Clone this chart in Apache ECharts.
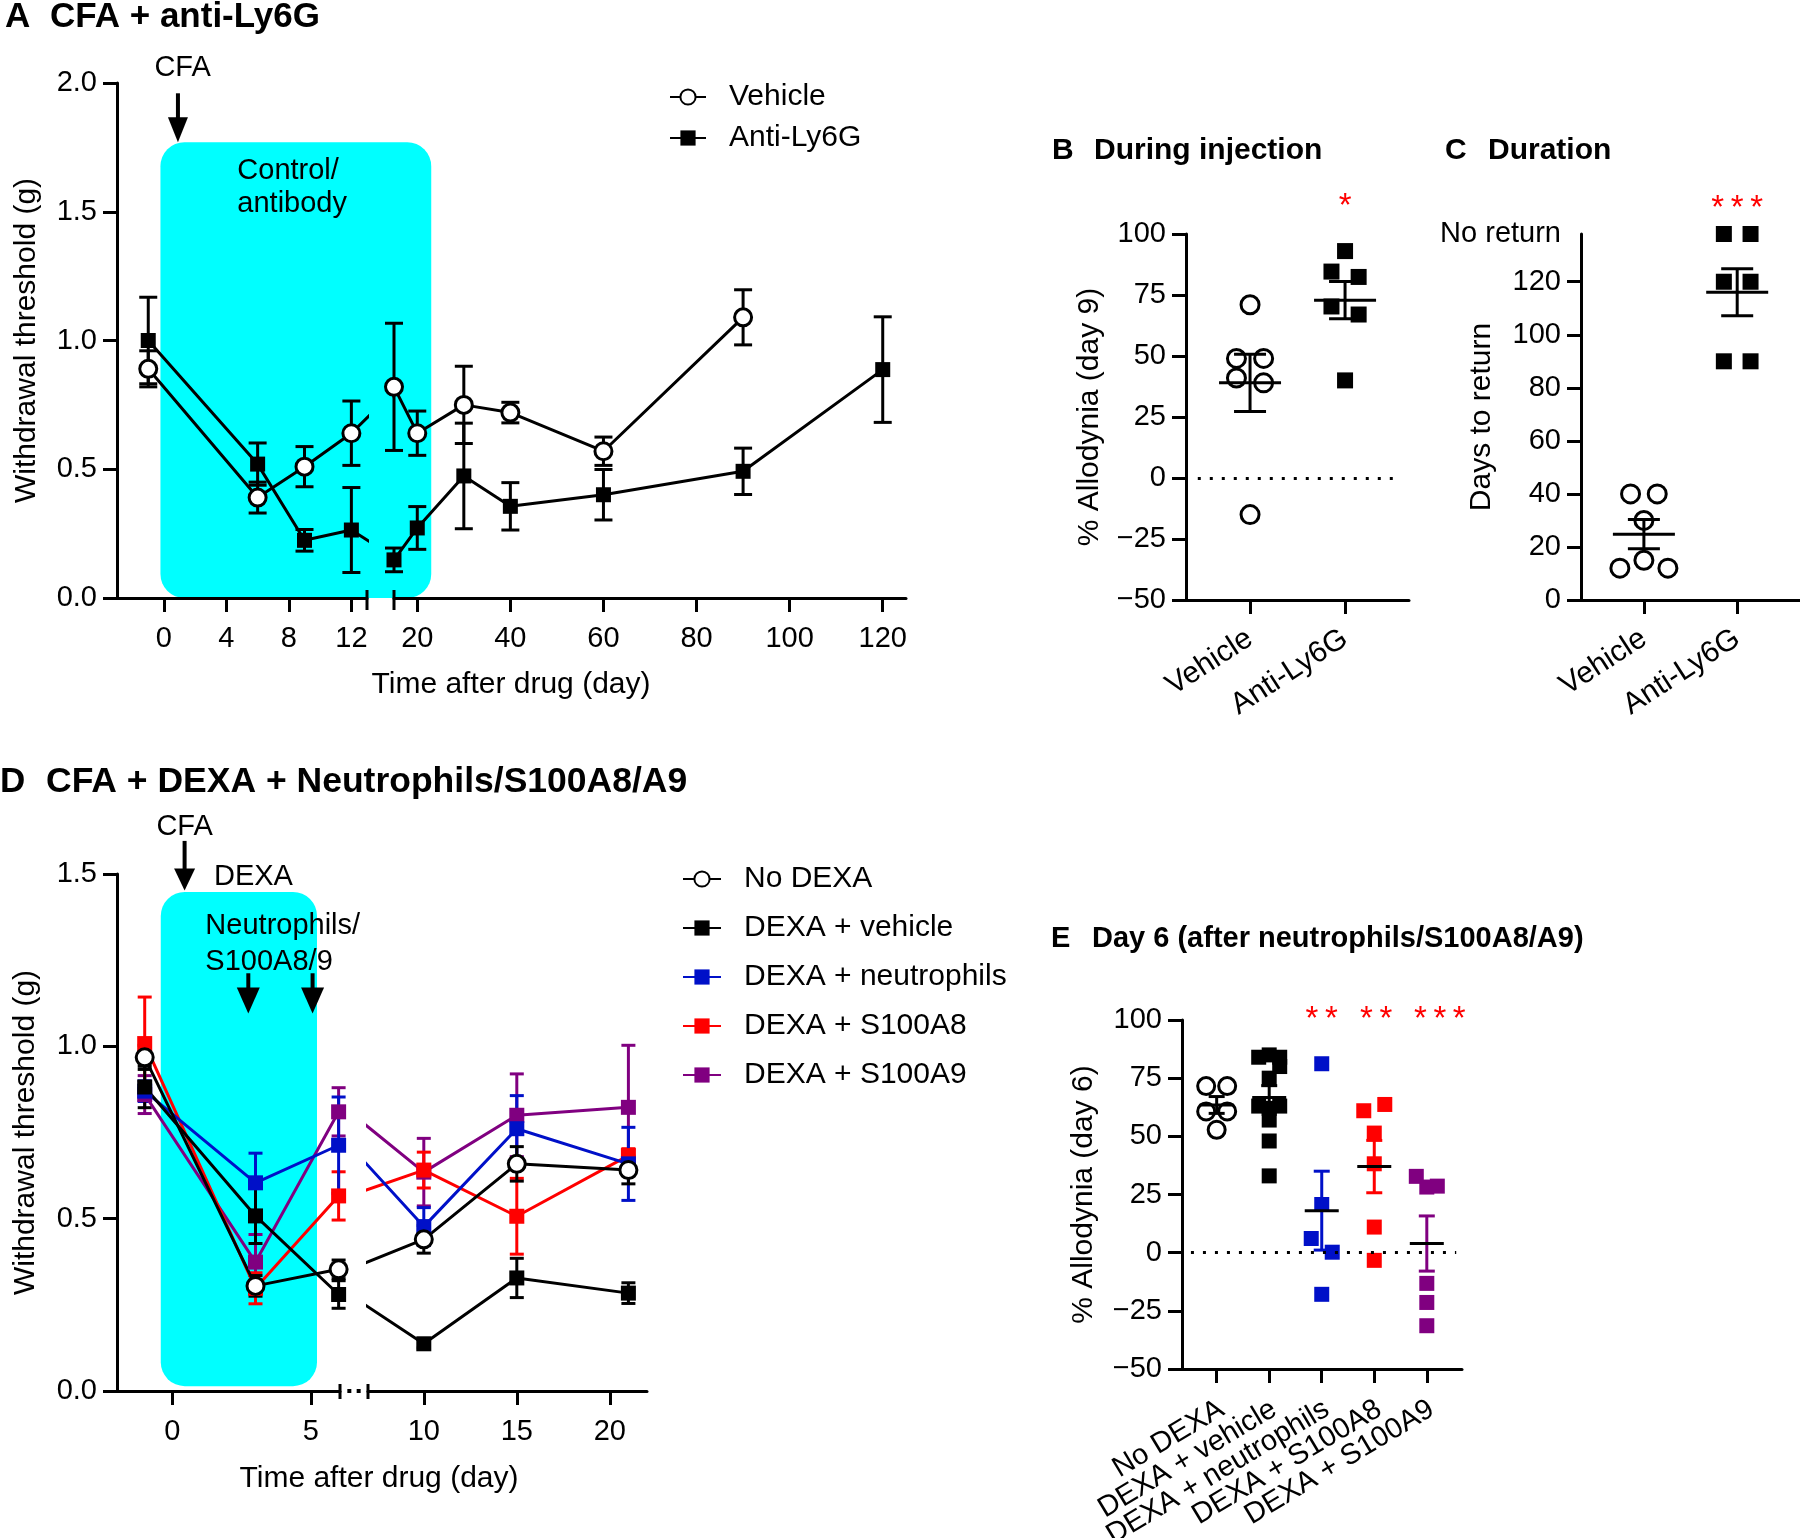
<!DOCTYPE html>
<html>
<head>
<meta charset="utf-8">
<script src="https://cdn.jsdelivr.net/npm/echarts@6/dist/echarts.min.js"></script>
<style>
  html, body { margin: 0; background: #fff; }
  #chart { width: 1800px; height: 1538px; }
</style>
</head>
<body>
<div id="chart"></div>
<script>
// ---- A: CFA + anti-Ly6G, withdrawal threshold (g), mean and SEM ----
const aVehDays = [-1, 6, 9, 12, 15, 20, 30, 40, 60, 90]
const aVehicle = [0.89, 0.39, 0.51, 0.64, 0.82, 0.64, 0.75, 0.72, 0.57, 1.09]
const aVehicleSem = [0.07, 0.06, 0.078, 0.125, 0.247, 0.086, 0.15, 0.04, 0.055, 0.107]
const aAntiDays = [-1, 6, 9, 12, 15, 20, 30, 40, 60, 90, 120]
const aAnti = [1.0, 0.52, 0.224, 0.264, 0.148, 0.272, 0.474, 0.356, 0.401, 0.492, 0.887]
const aAntiSem = [0.168, 0.082, 0.042, 0.165, 0.046, 0.083, 0.205, 0.092, 0.098, 0.09, 0.205]

// ---- B: % allodynia day 9, C: days to return (138 = no return) ----
const bcGroups = ['Vehicle', 'Anti-Ly6G']
const bVehicle = [71, 49, 49, 41, 39, -15]
const bVehicleOff = [0, -1, 1, -1, 1, 0]
const bAnti = [93, 84.6, 82.4, 70.3, 67, 40]
const bAntiOff = [0, -1, 1, -1, 1, 0]
const NO_RETURN = 138
const cVehicle = [40, 40, 30, 12, 15, 12]
const cVehicleOff = [-1, 1, 0, -1.8, 0, 1.8]
const cAnti = [NO_RETURN, NO_RETURN, 120, 120, 90, 90]
const cAntiOff = [-1, 1, -1, 1, -1, 1]

// ---- D: CFA + DEXA + neutrophils/S100A8/A9 ----
const dDays = [-1, 3, 6, 10, 15, 21]
const dNames = ['No DEXA', 'DEXA + vehicle', 'DEXA + neutrophils', 'DEXA + S100A8', 'DEXA + S100A9']
const dNoDexa = [0.968, 0.305, 0.353, 0.44, 0.659, 0.641]
const dNoDexaSem = [0.035, 0.03, 0.027, 0.04, 0.05, 0.04]
const dVehicle = [0.882, 0.508, 0.28, 0.137, 0.328, 0.284]
const dVehicleSem = [0.06, 0.08, 0.04, 0.012, 0.057, 0.03]
const dNeutro = [0.87, 0.604, 0.713, 0.477, 0.761, 0.659]
const dNeutroSem = [0.03, 0.086, 0.14, 0.055, 0.096, 0.106]
const dS100A8 = [1.008, 0.298, 0.566, 0.641, 0.507, 0.683]
const dS100A8Sem = [0.135, 0.045, 0.07, 0.052, 0.11, 0.02]
const dS100A9 = [0.86, 0.374, 0.81, 0.635, 0.8, 0.823]
const dS100A9Sem = [0.055, 0.08, 0.07, 0.098, 0.12, 0.18]

// ---- E: % allodynia day 6 ----
const eNoDexa = [71.6, 71.6, 60.7, 60.7, 52.8]
const eNoDexaOff = [-1, 1, -1, 1, 0]
const eVehicle = [84, 84, 85, 80, 75, 63, 63, 62, 57, 48, 33]
const eVehicleOff = [-1, 1, 0, 1, 0, -1, 1, 0, 0, 0, 0]
const eNeutro = [81.2, 20.7, 6.1, 0.2, -17.9]
const eNeutroOff = [0, 0, -1, 1, 0]
const eS100A8 = [61, 63.7, 51.4, 38.2, 11, -3.3]
const eS100A8Off = [-1, 1, 0, 0, 0, 0]
const eS100A9 = [32.8, 28.2, 28.6, -13.2, -21.4, -31.4]
const eS100A9Off = [-1, 0, 1, 0, 0, 0]

const FONT = '"Liberation Sans", Arial, Helvetica, sans-serif'
const BLUE = '#0010c8'
const RED = '#ff0000'
const PURPLE = '#800080'
const CYAN = '#00ffff'

const mean = (v) => v.reduce((a, b) => a + b, 0) / v.length
const sem = (v) => {
	const m = mean(v)
	const sd = Math.sqrt(v.reduce((a, b) => a + (b - m) * (b - m), 0) / (v.length - 1))
	return sd / Math.sqrt(v.length)
}
const minus = (v) => (v < 0 ? '\u2212' + Math.abs(v) : String(v))

function axisBase(grid) {
	return {
		gridIndex: grid,
		type: 'value',
		axisLine: { show: true, onZero: false, lineStyle: { color: '#000', width: 3 } },
		axisTick: { show: true, length: 14, lineStyle: { color: '#000', width: 3 } },
		axisLabel: { color: '#000', fontSize: 29, fontFamily: FONT, showMinLabel: true, showMaxLabel: true, hideOverlap: false },
		splitLine: { show: false },
	}
}

function xAx(grid, min, max, ticks, opt = {}) {
	const a = axisBase(grid)
	a.min = min
	a.max = max
	a.axisTick.customValues = ticks
	a.axisLabel.customValues = ticks
	a.axisLabel.margin = opt.margin || 26
	if (opt.rotate) a.axisLabel.rotate = opt.rotate
	if (opt.fontSize) a.axisLabel.fontSize = opt.fontSize
	if (opt.formatter) a.axisLabel.formatter = opt.formatter
	if (opt.noLabels) a.axisLabel.show = false
	return a
}

function yAx(grid, min, max, interval, name, gap, formatter) {
	const a = axisBase(grid)
	a.min = min
	a.max = max
	a.interval = interval
	a.axisLabel.margin = 20
	a.axisLabel.formatter = formatter
	a.name = name
	a.nameLocation = 'middle'
	a.nameGap = gap
	a.nameMoveOverlap = false
	a.nameTextStyle = { fontSize: 30, color: '#000', fontFamily: FONT }
	return a
}

const hiddenY = (grid, min, max) => ({ gridIndex: grid, type: 'value', min, max, show: false })

function lineSeries(name, ax, days, vals, color, open, size) {
	return {
		type: 'line',
		name,
		xAxisIndex: ax,
		yAxisIndex: ax,
		data: days.map((d, i) => [d, vals[i]]),
		symbol: open ? 'circle' : 'rect',
		symbolSize: size,
		lineStyle: { color, width: 3 },
		itemStyle: open ? { color: '#fff', borderColor: color, borderWidth: 3 } : { color },
		emphasis: { disabled: true },
		z: 3,
	}
}

function seg(x1, y1, x2, y2, color, w) {
	return { type: 'line', shape: { x1, y1, x2, y2 }, style: { stroke: color, lineWidth: w || 3 } }
}

function errSeries(ax, days, vals, sems, color, cap, lo, hi) {
	const data = days.map((d, i) => [d, vals[i], sems[i]]).filter((p) => p[0] >= lo && p[0] <= hi)
	return {
		type: 'custom',
		xAxisIndex: ax,
		yAxisIndex: ax,
		encode: { x: 0, y: 1 },
		data,
		z: 2,
		renderItem(params, api) {
			const x = api.value(0), y = api.value(1), e = api.value(2)
			const t = api.coord([x, y + e]), b = api.coord([x, y - e])
			const h = cap / 2
			return {
				type: 'group',
				children: [
					seg(t[0], t[1], b[0], b[1], color),
					seg(t[0] - h, t[1], t[0] + h, t[1], color),
					seg(b[0] - h, b[1], b[0] + h, b[1], color),
				],
			}
		},
	}
}

function dots(ax, xc, vals, offs, spread, color, open, size) {
	return {
		type: 'scatter',
		xAxisIndex: ax,
		yAxisIndex: ax,
		data: vals.map((v, i) => [xc + offs[i] * spread, v]),
		symbol: open ? 'circle' : 'rect',
		symbolSize: size,
		itemStyle: open
			? { color: '#fff', borderColor: color, borderWidth: 3, opacity: 1 }
			: { color, opacity: 1 },
		emphasis: { disabled: true },
		z: 3,
	}
}

function meanSem(ax, groups, meanW, capW, colors) {
	const data = groups.map((v, i) => [i + 1, mean(v), sem(v)])
	return {
		type: 'custom',
		xAxisIndex: ax,
		yAxisIndex: ax,
		encode: { x: 0, y: 1 },
		data,
		z: 4,
		renderItem(params, api) {
			const col = colors[params.dataIndex]
			const x = api.value(0), m = api.value(1), s = api.value(2)
			const c = api.coord([x, m]), t = api.coord([x, m + s]), b = api.coord([x, m - s])
			return {
				type: 'group',
				children: [
					seg(t[0], t[1], b[0], b[1], col),
					seg(t[0] - capW / 2, t[1], t[0] + capW / 2, t[1], col),
					seg(b[0] - capW / 2, b[1], b[0] + capW / 2, b[1], col),
					seg(c[0] - meanW / 2, c[1], c[0] + meanW / 2, c[1], '#000'),
				],
			}
		},
	}
}

function zeroLine(ax, x1, x2) {
	return {
		type: 'line',
		xAxisIndex: ax,
		yAxisIndex: ax,
		data: [],
		silent: true,
		markLine: {
			silent: true,
			symbol: 'none',
			label: { show: false },
			lineStyle: { color: '#000', width: 3, type: [3, 9] },
			data: [[{ coord: [x1, 0] }, { coord: [x2, 0] }]],
		},
	}
}

const series = []

// A, two segments of the broken x axis
const aSegs = [[0, -3, 13], [1, 15, 125]]
aSegs.forEach(([ax, lo, hi]) => {
	series.push(errSeries(ax, aAntiDays, aAnti, aAntiSem, '#000', 18, lo, hi))
	series.push(errSeries(ax, aVehDays, aVehicle, aVehicleSem, '#000', 18, lo, hi))
	series.push(lineSeries('Anti-Ly6G', ax, aAntiDays, aAnti, '#000', false, 15))
	series.push(lineSeries('Vehicle', ax, aVehDays, aVehicle, '#000', true, 17))
})

// B
series.push(zeroLine(2, 0.45, 2.58))
series.push(dots(2, 1, bVehicle, bVehicleOff, 0.143, '#000', true, 18))
series.push(dots(2, 2, bAnti, bAntiOff, 0.143, '#000', false, 16))
series.push(meanSem(2, [bVehicle, bAnti], 62, 32, ['#000', '#000']))

// C
series.push(dots(3, 1, cVehicle, cVehicleOff, 0.143, '#000', true, 18))
series.push(dots(3, 2, cAnti, cAntiOff, 0.143, '#000', false, 16))
series.push(meanSem(3, [cVehicle, cAnti], 62, 32, ['#000', '#000']))

// D, two segments
const dSets = [
	[dS100A9, dS100A9Sem, PURPLE, false],
	[dS100A8, dS100A8Sem, RED, false],
	[dNeutro, dNeutroSem, BLUE, false],
	[dVehicle, dVehicleSem, '#000', false],
	[dNoDexa, dNoDexaSem, '#000', true],
]
const dSetNames = [dNames[4], dNames[3], dNames[2], dNames[1], dNames[0]]
const dSegs = [[4, -2, 6.05], [5, 7, 22]]
dSegs.forEach(([ax, lo, hi]) => {
	dSets.forEach(([v, s, col]) => series.push(errSeries(ax, dDays, v, s, col, 14, lo, hi)))
	dSets.forEach(([v, s, col, open], k) =>
		series.push(lineSeries(dSetNames[k], ax, dDays, v, col, open, open ? 17 : 15))
	)
})

// E
series.push(zeroLine(6, 0.51, 5.56))
series.push(dots(6, 1, eNoDexa, eNoDexaOff, 0.2, '#000', true, 17))
series.push(dots(6, 2, eVehicle, eVehicleOff, 0.2, '#000', false, 15))
series.push(dots(6, 3, eNeutro, eNeutroOff, 0.2, BLUE, false, 15))
series.push(dots(6, 4, eS100A8, eS100A8Off, 0.2, RED, false, 15))
series.push(dots(6, 5, eS100A9, eS100A9Off, 0.2, PURPLE, false, 15))
series.push(meanSem(6, [eNoDexa, eVehicle, eNeutro, eS100A8, eS100A9], 34, 16, ['#000', '#000', BLUE, RED, PURPLE]))

const legendText = (pad) => ({ fontSize: 30, color: '#000', fontFamily: FONT, padding: [0, 0, 0, pad] })

const gridBox = (left, top, width, height) => ({ left, top, width, height, outerBoundsMode: 'none', containLabel: false })

const option = {
	animation: false,
	backgroundColor: '#fff',
	textStyle: { fontFamily: FONT },
	grid: [
		gridBox(117, 83, 250, 515),
		gridBox(394, 83, 512, 515),
		gridBox(1186, 234, 223, 366),
		gridBox(1581, 234, 219, 366),
		gridBox(117, 874, 223, 517),
		gridBox(368, 874, 279, 517),
		gridBox(1182, 1020, 280, 349),
	],
	xAxis: [
		xAx(0, -3, 13, [0, 4, 8, 12]),
		xAx(1, 15, 125, [20, 40, 60, 80, 100, 120]),
		xAx(2, 0.326, 2.673, [1, 2], { rotate: 33, margin: 36, fontSize: 30, formatter: (v) => bcGroups[Math.round(v) - 1] }),
		xAx(3, 0.326, 2.673, [1, 2], { rotate: 33, margin: 36, fontSize: 30, formatter: (v) => bcGroups[Math.round(v) - 1] }),
		xAx(4, -2, 6.05, [0, 5]),
		xAx(5, 7, 22, [10, 15, 20]),
		xAx(6, 0.34, 5.67, [1, 2, 3, 4, 5], { noLabels: true }),
	],
	yAxis: [
		yAx(0, 0, 2, 0.5, 'Withdrawal threshold (g)', 75, (v) => v.toFixed(1)),
		hiddenY(1, 0, 2),
		yAx(2, -50, 100, 25, '% Allodynia (day 9)', 81, minus),
		(() => {
			const a = yAx(3, 0, NO_RETURN, 20, 'Days to return', 84, (v) => (v === NO_RETURN ? 'No return' : String(v)))
			a.axisTick.customValues = [0, 20, 40, 60, 80, 100, 120]
			a.axisLabel.customValues = [0, 20, 40, 60, 80, 100, 120, NO_RETURN]
			return a
		})(),
		yAx(4, 0, 1.5, 0.5, 'Withdrawal threshold (g)', 76, (v) => v.toFixed(1)),
		hiddenY(5, 0, 1.5),
		yAx(6, -50, 100, 25, '% Allodynia (day 6)', 83, minus),
	],
	legend: [
		{
			data: ['Vehicle', 'Anti-Ly6G'],
			orient: 'vertical',
			left: 669,
			top: 82,
			padding: 0,
			itemWidth: 36,
			itemHeight: 19,
			itemGap: 11,
			selectedMode: false,
			textStyle: legendText(18),
		},
		{
			data: dNames,
			orient: 'vertical',
			left: 682,
			top: 864,
			padding: 0,
			itemWidth: 38,
			itemHeight: 19,
			itemGap: 19,
			selectedMode: false,
			textStyle: legendText(18),
		},
	],
	series,
}

const chart = echarts.init(document.getElementById('chart'))
chart.setOption(option)

// annotations placed through the grids' own scales
const P = (g, x, y) => chart.convertToPixel({ gridIndex: g }, [x, y])

function text(str, x, y, opt = {}) {
	return {
		type: 'text',
		x,
		y,
		z: 50,
		rotation: ((opt.rotate || 0) * Math.PI) / 180,
		style: {
			text: str,
			fill: opt.color || '#000',
			fontSize: opt.size || 29,
			fontWeight: opt.bold ? 'bold' : 'normal',
			fontFamily: FONT,
			align: opt.align || 'left',
			verticalAlign: 'middle',
		},
	}
}

function arrow(x, y1, y2, w, h) {
	return [
		{ type: 'line', z: 50, shape: { x1: x, y1, x2: x, y2: y2 - h + 2 }, style: { stroke: '#000', lineWidth: 4 } },
		{ type: 'polygon', z: 50, shape: { points: [[x - w / 2, y2 - h], [x + w / 2, y2 - h], [x, y2]] }, style: { fill: '#000' } },
	]
}

function box(p1, p2) {
	return {
		type: 'rect',
		z: -10,
		shape: { x: p1[0], y: p1[1], width: p2[0] - p1[0], height: p2[1] - p1[1], r: 24 },
		style: { fill: CYAN },
	}
}

function breakMark(p, up, down) {
	return { type: 'line', z: 50, shape: { x1: p[0], y1: p[1] - up, x2: p[0], y2: p[1] + down }, style: { stroke: '#000', lineWidth: 3 } }
}

const g = []
// A
g.push(box(P(0, -0.22, 1.77), P(1, 23, 0)))
const aArr = P(0, 0.9, 1.96), aArrEnd = P(0, 0.9, 1.77)
g.push(...arrow(aArr[0], aArr[1], aArrEnd[1], 20, 25))
const aCfa = P(0, 1.2, 2.06)
g.push(text('CFA', aCfa[0], aCfa[1], { align: 'center' }))
const aCtl = P(0, 4.7, 1.66), aAb = P(0, 4.7, 1.53)
g.push(text('Control/', aCtl[0], aCtl[1]))
g.push(text('antibody', aAb[0], aAb[1]))
g.push(breakMark(P(0, 13, 0), 8, 12))
g.push(breakMark(P(1, 15, 0), 8, 12))
g.push(text('Time after drug (day)', 511, 685, { align: 'center', size: 30 }))
g.push(text('A', 5, 17, { size: 35, bold: true }))
g.push(text('CFA + anti-Ly6G', 50, 17, { size: 35, bold: true }))

// B, C
g.push(text('B', 1052, 151, { bold: true, size: 30 }))
g.push(text('During injection', 1094, 151, { bold: true, size: 30 }))
g.push(text('C', 1445, 151, { bold: true, size: 30 }))
g.push(text('Duration', 1488, 151, { bold: true, size: 30 }))
const bStar = P(2, 2, 114)
g.push(text('*', bStar[0], bStar[1] + 7, { align: 'center', color: RED, size: 33 }))
const cStar = P(3, 2, 150)
g.push(text('*\u2009*\u2009*', cStar[0], cStar[1] + 7, { align: 'center', color: RED, size: 33 }))

// D
g.push(box(P(4, -0.42, 1.448), P(4, 5.22, 0.014)))
const dArr = P(4, 0.44, 1.596), dArrEnd = P(4, 0.44, 1.452)
g.push(...arrow(dArr[0], dArr[1], dArrEnd[1], 21, 22))
const dCfa = P(4, 0.44, 1.637)
g.push(text('CFA', dCfa[0], dCfa[1], { align: 'center' }))
const dDexa = P(4, 1.5, 1.49)
g.push(text('DEXA', dDexa[0], dDexa[1]))
const dN1 = P(4, 1.19, 1.349), dN2 = P(4, 1.19, 1.246)
g.push(text('Neutrophils/', dN1[0], dN1[1]))
g.push(text('S100A8/9', dN2[0], dN2[1]))
;[2.74, 5.06].forEach((d) => {
	const s = P(4, d, 1.212), e = P(4, d, 1.095)
	g.push(...arrow(s[0], s[1], e[1], 23, 26))
})
const dBr1 = P(4, 6.05, 0), dBr2 = P(5, 7, 0)
g.push(breakMark(dBr1, 7, 8))
g.push(breakMark(dBr2, 7, 8))
;[1 / 3, 2 / 3].forEach((f) => {
	const x = dBr1[0] + (dBr2[0] - dBr1[0]) * f
	g.push({ type: 'rect', z: 50, shape: { x: x - 2, y: dBr1[1] - 2, width: 4, height: 4 }, style: { fill: '#000' } })
})
g.push(text('Time after drug (day)', 379, 1479, { align: 'center', size: 30 }))
g.push(text('D', 0, 782, { size: 35, bold: true }))
g.push(text('CFA + DEXA + Neutrophils/S100A8/A9', 46, 782, { size: 35.5, bold: true }))

// E
g.push(text('E', 1051, 939, { bold: true }))
g.push(text('Day 6 (after neutrophils/S100A8/A9)', 1092, 939, { bold: true }))
;[[3, '*\u2009*', 0], [4, '*\u2009*', 2], [5, '*\u2009*\u2009*', 13]].forEach(([x, s, dx]) => {
	const p = P(6, x, 103)
	g.push(text(s, p[0] + dx, p[1] + 7, { align: 'center', color: RED, size: 33 }))
})
// E group labels, rotated under each tick
dNames.forEach((name, i) => {
	const p = P(6, i + 1, -50)
	g.push(text(name, p[0] + 5, p[1] + 38, { align: 'right', rotate: 31 }))
})

chart.setOption({ graphic: { elements: g } })
</script>
</body>
</html>
